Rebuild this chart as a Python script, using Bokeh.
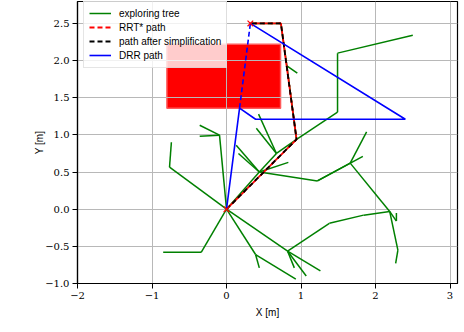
from bokeh.plotting import figure
from bokeh.models import FixedTicker, CustomJSTickFormatter, Range1d
from bokeh.embed import file_html
from bokeh.resources import INLINE

# ---- data ----
x_ticks = [-2, -1, 0, 1, 2, 3]
y_ticks = [-1.0, -0.5, 0.0, 0.5, 1.0, 1.5, 2.0, 2.5]

obstacle_left = [-0.80]
obstacle_right = [0.725]
obstacle_bottom = [1.36]
obstacle_top = [2.22]

start_x = [0.0]
start_y = [0.0]
goal_x = [0.32]
goal_y = [2.50]

# exploring tree edges (x0, y0) -> (x1, y1)
edge_x0 = [0.00, -0.765, 0.00, -0.094, -0.094, 0.00, -0.34, 0.00, 0.39, 0.39,
           0.00, 0.82, 0.82, 0.82, 0.82, 1.38, 1.84, 2.19, 2.30, 2.19, 2.28,
           0.00, 0.44, 0.44, 0.44, 0.67, 0.67, 0.44, 0.44, 1.22, 1.66, 1.22, 1.66,
           0.67, 0.94, 1.49, 1.49, 0.94, 0.81, 0.81, 0.73]
edge_y0 = [0.00, 0.565, 0.00, 0.996, 0.996, 0.00, -0.58, 0.00, -0.61, -0.61,
           0.00, -0.565, -0.565, -0.565, -0.565, -0.19, -0.08, -0.03, -0.55, -0.03, -0.16,
           0.00, 0.50, 0.50, 0.50, 0.75, 0.75, 0.50, 0.50, 0.38, 0.62, 0.38, 0.62,
           0.75, 0.94, 1.305, 2.10, 0.94, 1.93, 1.93, 2.50]
edge_x1 = [-0.765, -0.74, -0.094, -0.36, -0.36, -0.34, -0.85, 0.39, 0.44, 0.93,
           0.82, 1.07, 1.26, 0.91, 1.38, 1.84, 2.19, 2.30, 2.27, 2.28, 2.28,
           0.44, 0.13, 0.16, 0.67, 0.43, 0.40, 0.83, 1.22, 1.66, 1.88, 1.83, 2.19,
           0.94, 1.49, 1.49, 2.50, 0.81, 0.95, 0.73, 0.32]
edge_y1 = [0.565, 0.90, 0.996, 1.13, 0.98, -0.58, -0.58, -0.61, -0.79, -0.94,
           -0.565, -0.90, -0.83, -0.79, -0.19, -0.08, -0.03, -0.55, -0.73, -0.16, -0.05,
           0.50, 0.86, 0.75, 0.75, 1.28, 1.09, 0.63, 0.38, 0.62, 1.04, 0.71, -0.03,
           0.94, 1.305, 2.10, 2.34, 1.93, 1.83, 2.50, 2.50]

rrt_x = [0.00, 0.94, 0.73, 0.32]
rrt_y = [0.00, 0.94, 2.50, 2.50]
simp_x = [0.00, 0.94, 0.73, 0.32]
simp_y = [0.00, 0.94, 2.50, 2.50]
drr_x = [0.00, 0.175, 0.39, 2.40, 0.32]
drr_y = [0.00, 1.36, 1.21, 1.21, 2.50]
drr_dash_x = [0.175, 0.32]
drr_dash_y = [1.36, 2.50]

# ---- figure ----
p = figure(width=460, height=322, output_backend="svg", toolbar_location=None,
           x_range=Range1d(-2, 3.10), y_range=Range1d(-1, 2.795),
           min_border_left=77, min_border_right=3, min_border_top=1,
           min_border_bottom=39)

p.quad(left=obstacle_left, right=obstacle_right, bottom=obstacle_bottom,
       top=obstacle_top, fill_color="#ff0000", line_color="#ff5a5a",
       line_width=1.5, level="underlay")

p.segment(x0=edge_x0, y0=edge_y0, x1=edge_x1, y1=edge_y1, line_color="green",
          line_width=1.5, legend_label="exploring tree")

# RRT* path (legend entry, regular dashes)
p.line(rrt_x, rrt_y, line_color="#ff0000", line_width=1.8, line_dash="5 3",
       legend_label="RRT* path")
# shifted red dashes so the red shows in the gaps of the black dashes
p.line(rrt_x, rrt_y, line_color="#ff0000", line_width=1.8, line_dash="5 3",
       line_dash_offset=3)
p.line(simp_x, simp_y, line_color="black", line_width=1.8, line_dash="5 3",
       legend_label="path after simplification")
p.line(drr_x, drr_y, line_color="#0000ff", line_width=1.6, legend_label="DRR path")
p.line(drr_dash_x, drr_dash_y, line_color="#0000ff", line_width=1.6, line_dash="5 3")

p.scatter(start_x + goal_x, start_y + goal_y, marker="x", size=8,
          line_color="#ff0000", line_width=1.2)

# axes
p.xaxis.ticker = FixedTicker(ticks=x_ticks)
p.yaxis.ticker = FixedTicker(ticks=y_ticks)
p.xaxis.formatter = CustomJSTickFormatter(code="return tick.toFixed(0).replace('-', '\\u2212');")
p.yaxis.formatter = CustomJSTickFormatter(code="return tick.toFixed(1).replace('-', '\\u2212');")
p.xaxis.axis_label = "X [m]"
p.yaxis.axis_label = "Y [m]"
for ax in (p.xaxis, p.yaxis):
    ax.axis_label_text_font = "Liberation Sans"
    ax.axis_label_text_font_size = "10px"
    ax.axis_label_text_font_style = "normal"
    ax.axis_label_text_color = "black"
    ax.major_label_text_font = "DejaVu Serif"
    ax.major_label_text_font_size = "10px"
    ax.major_label_text_color = "black"
    ax.major_label_standoff = 3
    ax.major_tick_out = 5
    ax.major_tick_in = 0
    ax.minor_tick_out = 0
    ax.minor_tick_in = 0
    ax.axis_line_color = "black"
    ax.axis_line_width = 1.2
    ax.major_tick_line_color = "black"
p.xaxis.axis_label_standoff = 5
p.yaxis.axis_label_standoff = -3

p.xgrid.grid_line_color = "#b8b8b8"
p.ygrid.grid_line_color = "#b8b8b8"
p.xgrid.grid_line_width = 1
p.ygrid.grid_line_width = 1

p.outline_line_color = "black"
p.outline_line_width = 1.2
p.outline_line_alpha = 1

# legend
lg = p.legend[0]
lg.location = (6, 215)
lg.padding = 5
lg.spacing = 0
lg.margin = 0
lg.glyph_width = 22
lg.glyph_height = 14
lg.label_height = 14
lg.label_standoff = 8
lg.label_text_font = "Liberation Sans"
lg.label_text_font_size = "10px"
lg.label_text_color = "black"
lg.background_fill_color = "white"
lg.background_fill_alpha = 0.8
lg.border_line_color = "#cccccc"
lg.border_line_width = 1

open("out.html", "w").write(file_html(p, INLINE))
